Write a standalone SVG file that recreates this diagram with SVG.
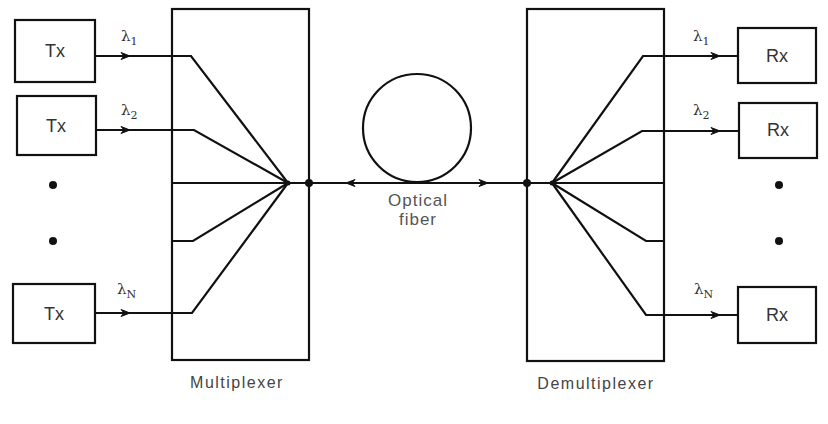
<svg xmlns="http://www.w3.org/2000/svg" xmlns:xlink="http://www.w3.org/1999/xlink" width="828" height="424" viewBox="0 0 828 424">
<style>
.box{fill:#fff;stroke:#111;stroke-width:2.2}
.ln{fill:none;stroke:#111;stroke-width:2.2}
.lbl{font-family:"Liberation Sans",Arial,sans-serif;font-size:18px;fill:#333;text-anchor:middle}
.cap{font-family:"Liberation Sans",Arial,sans-serif;font-size:16px;fill:#444;text-anchor:middle;letter-spacing:1.5px}
.fib{font-family:"Liberation Sans",Arial,sans-serif;font-size:17px;fill:#555;text-anchor:middle;letter-spacing:1px}
.lam{font-family:"DejaVu Serif","Liberation Serif",serif;font-size:15px;fill:#333}
.sub{font-size:11px}
.dot{fill:#111}
</style>
<defs>
<path id="ar" d="M0,0 L-9,-3.5 L-6,0 L-9,3.5 Z" fill="#111" stroke="#111" stroke-width="1"/>
</defs>
<rect width="828" height="424" fill="#fff"/>

<g id="mux">
<rect class="box" x="172" y="9" width="137" height="351"/>
<text class="cap" x="237" y="388">Multiplexer</text>
</g>
<g id="demux">
<rect class="box" x="527" y="9" width="137" height="352"/>
<text class="cap" x="596" y="389">Demultiplexer</text>
</g>

<g id="tx1"><rect class="box" x="15" y="20" width="80" height="62"/><text class="lbl" x="55" y="57">Tx</text></g>
<g id="tx2"><rect class="box" x="17" y="96" width="79" height="59"/><text class="lbl" x="56" y="132">Tx</text></g>
<g id="txN"><rect class="box" x="13" y="284" width="82" height="59"/><text class="lbl" x="54" y="320">Tx</text></g>
<g id="rx1"><rect class="box" x="738" y="28" width="78" height="55"/><text class="lbl" x="777" y="62">Rx</text></g>
<g id="rx2"><rect class="box" x="739" y="103" width="78" height="55"/><text class="lbl" x="778" y="136">Rx</text></g>
<g id="rxN"><rect class="box" x="738" y="287" width="78" height="56"/><text class="lbl" x="777" y="321">Rx</text></g>

<g id="ellipsis">
<circle class="dot" cx="53" cy="185" r="4"/>
<circle class="dot" cx="53" cy="241" r="4"/>
<circle class="dot" cx="779" cy="185" r="4"/>
<circle class="dot" cx="779" cy="241" r="4"/>
</g>

<g id="labels">
<text class="lam" x="121" y="41">λ<tspan class="sub" dy="4">1</tspan></text>
<text class="lam" x="121" y="115">λ<tspan class="sub" dy="4">2</tspan></text>
<text class="lam" x="117" y="294">λ<tspan class="sub" dy="4">N</tspan></text>
<text class="lam" x="693" y="41">λ<tspan class="sub" dy="4">1</tspan></text>
<text class="lam" x="693" y="115">λ<tspan class="sub" dy="4">2</tspan></text>
<text class="lam" x="694" y="294">λ<tspan class="sub" dy="4">N</tspan></text>
<text class="fib" x="418" y="206">Optical</text>
<text class="fib" x="418" y="225">fiber</text>
</g>

<g id="connectors">
<polyline class="ln" points="95,56 191,56 288,183"/>
<polyline class="ln" points="96,130 194,130 288,183"/>
<polyline class="ln" points="172,183 309,183"/>
<polyline class="ln" points="172,241 193,241 288,183"/>
<polyline class="ln" points="95,313 192,313 288,183"/>

<polyline class="ln" points="738,56 643,56 552,183"/>
<polyline class="ln" points="738,131 642,131 552,183"/>
<polyline class="ln" points="664,183 527,183"/>
<polyline class="ln" points="664,241 646,241 552,183"/>
<polyline class="ln" points="738,315 646,315 552,183"/>

<line class="ln" x1="309" y1="183" x2="527" y2="183"/>
<circle class="ln" cx="417" cy="128" r="54"/>

<use xlink:href="#ar" x="130" y="56"/>
<use xlink:href="#ar" x="130" y="130"/>
<use xlink:href="#ar" x="130" y="313"/>
<use xlink:href="#ar" x="720" y="56"/>
<use xlink:href="#ar" x="720" y="131"/>
<use xlink:href="#ar" x="720" y="315"/>
<use xlink:href="#ar" x="488" y="183"/>
<use xlink:href="#ar" transform="translate(346,183) rotate(180)"/>

<circle class="dot" cx="309" cy="183" r="4"/>
<circle class="dot" cx="527" cy="183" r="4"/>
<circle class="dot" cx="288" cy="183" r="2.5"/>
<circle class="dot" cx="552" cy="183" r="2.5"/>
</g>
</svg>
